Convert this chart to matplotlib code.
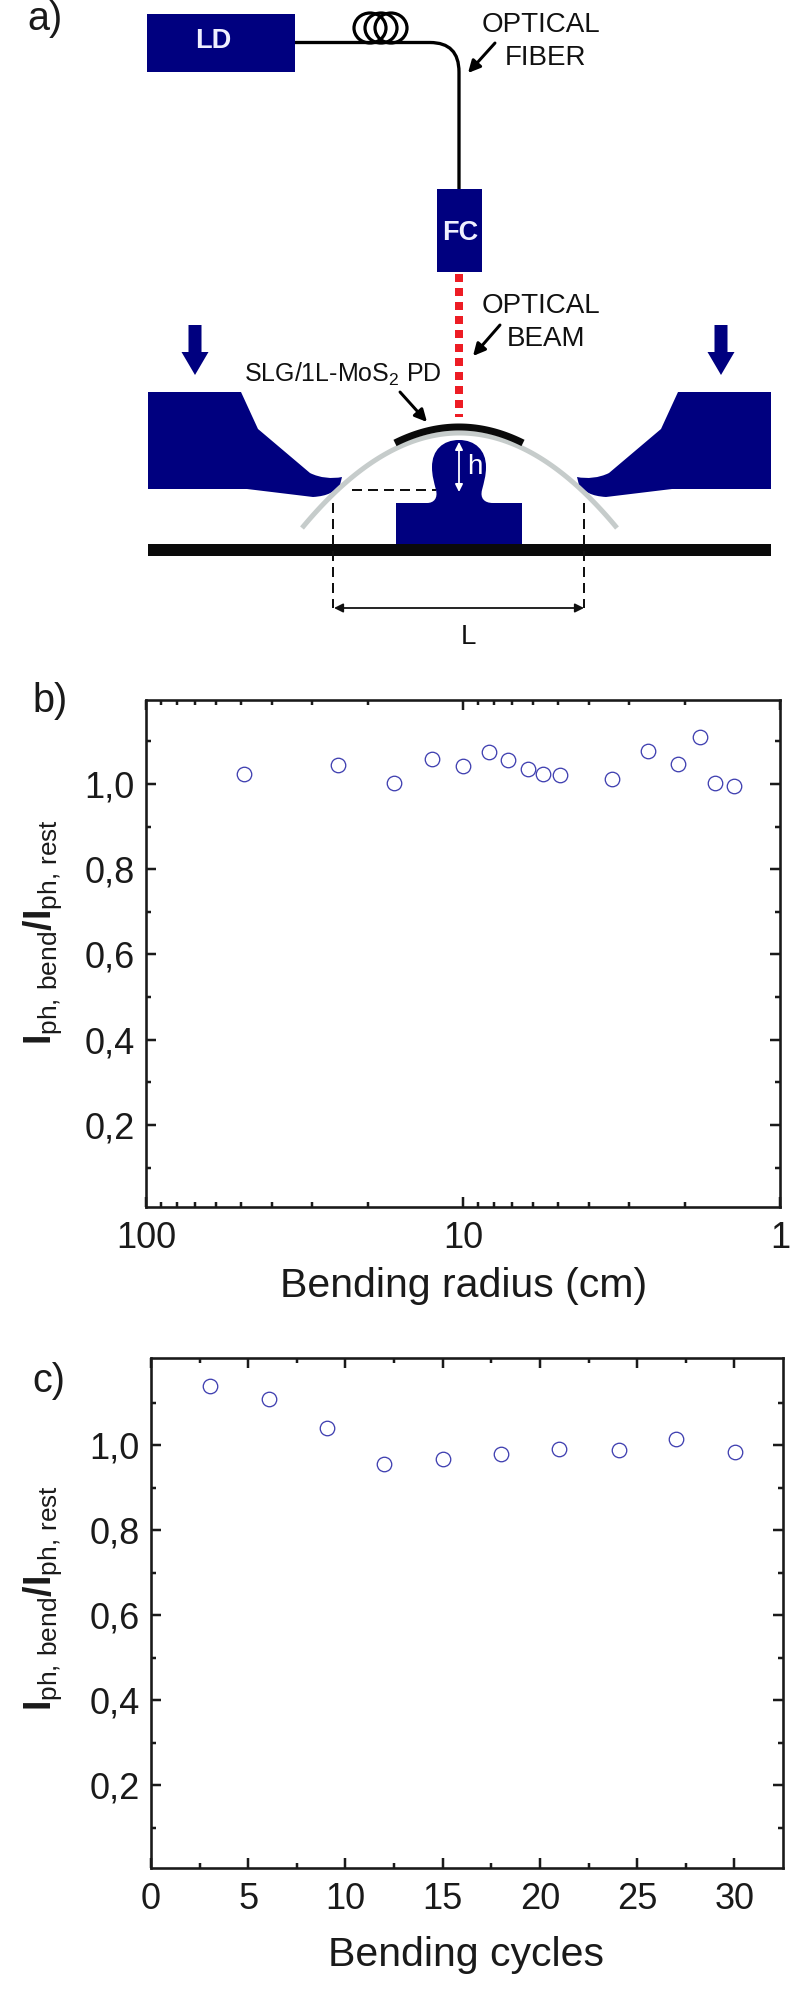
import numpy as np
import matplotlib
matplotlib.use('Agg')
import matplotlib.pyplot as plt
from matplotlib.patches import Rectangle, Ellipse, PathPatch, FancyArrowPatch, Polygon
from matplotlib.path import Path
from matplotlib.ticker import FixedLocator, LogLocator, NullFormatter, FuncFormatter

plt.rcParams['font.family'] = ['Liberation Sans', 'DejaVu Sans']
plt.rcParams['mathtext.fontset'] = 'custom'
plt.rcParams['mathtext.rm'] = 'Liberation Sans'
plt.rcParams['mathtext.it'] = 'Liberation Sans'
plt.rcParams['mathtext.bf'] = 'Liberation Sans:bold'
plt.rcParams['mathtext.default'] = 'regular'

# panel b
radius_cm = [49, 24.8, 16.5, 12.5, 10, 8.3, 7.2, 6.25, 5.6, 4.94, 3.4, 2.6, 2.1, 1.79, 1.6, 1.4]
ratio_radius = [1.024, 1.045, 1.003, 1.059, 1.042, 1.075, 1.056, 1.035, 1.023, 1.02,
                1.012, 1.078, 1.048, 1.11, 1.003, 0.996]

# panel c
cycles = [3.05, 6.05, 9.05, 12, 15, 18, 21, 24.05, 27, 30.05]
ratio_cycles = [1.138, 1.108, 1.039, 0.955, 0.967, 0.98, 0.991, 0.988, 1.015, 0.984]

y_major = [0.2, 0.4, 0.6, 0.8, 1.0]
y_minor = [0.1, 0.3, 0.5, 0.7, 0.9, 1.1]
ylabel = r'$\mathbf{I}_{ph,\,bend}\mathbf{/I}_{ph,\,rest}$'

W, H = 803, 1989
NAVY = '#00007f'
GREY = '#c6cccb'
RED = '#ed1c24'
BLUE = '#3f3fb0'
INK = '#1a1a1a'
PX = 72 / 100  # one pixel in points

fig = plt.figure(figsize=(W / 100, H / 100), dpi=100, facecolor='white')


def rect_px(l, t, r, b):
    return [l / W, 1 - b / H, (r - l) / W, (b - t) / H]


# ---- a) schematic, drawn in image pixels
dg = fig.add_axes(rect_px(0, 0, W, 680))
dg.set_xlim(0, W)
dg.set_ylim(680, 0)
dg.axis('off')

dg.add_patch(Rectangle((147.5, 14), 147.5, 58, fc=NAVY, ec='none'))
dg.add_patch(Rectangle((437, 189), 45, 83, fc=NAVY, ec='none'))
dg.text(213, 41.5, 'LD', color='#f0f0ff', fontsize=19.5, fontweight='bold', ha='center', va='center')
dg.text(460, 233, 'FC', color='#f0f0ff', fontsize=19.5, fontweight='bold', ha='center', va='center')

# fiber and coils
fiber = Path([(295, 42.5), (430, 42.5), (459, 42.5), (459, 72), (459, 189)],
             [Path.MOVETO, Path.LINETO, Path.CURVE3, Path.CURVE3, Path.LINETO])
dg.add_patch(PathPatch(fiber, fc='none', ec='black', lw=3.3 * PX))
for cx in [370, 381, 391]:
    dg.add_patch(Ellipse((cx, 28), 32, 30, fc='none', ec='black', lw=3.2 * PX))

# beam
dg.plot([459, 459], [274, 417], color=RED, lw=8 * PX, dashes=(1, 0.75), dash_capstyle='butt')

for x, y, s in [(541, 25, 'OPTICAL'), (546, 58, 'FIBER'), (541, 306, 'OPTICAL'), (546, 339, 'BEAM')]:
    dg.text(x, y, s, fontsize=20, ha='center', va='center', color='#111111')
dg.text(343, 374, 'SLG/1L-MoS$_2$ PD', fontsize=18, ha='center', va='center', color='#111111')
dg.text(468, 637, 'L', fontsize=20, ha='center', va='center', color='#111111')


def arrow(p0, p1, color='black', lw=3, style='-|>', scale=18):
    dg.add_patch(FancyArrowPatch(p0, p1, arrowstyle=style, mutation_scale=scale, color=color,
                                 lw=lw * PX, shrinkA=0, shrinkB=0, zorder=6))


arrow((495, 43), (468, 73))
arrow((500, 325), (473, 356))
arrow((400, 392), (427, 422))

# press arrows
for cx in [195, 721]:
    dg.add_patch(Polygon([(cx - 6.5, 325), (cx + 6.5, 325), (cx + 6.5, 352), (cx + 13.5, 352),
                          (cx, 375), (cx - 13.5, 352), (cx - 6.5, 352)], fc=NAVY, ec='none'))

# clamps, right one mirrored about the centre line
clamp_v = [(148, 392), (241, 392), (258, 429), (310, 473), (320, 478), (332, 479), (342, 477),
           (340, 485), (334, 492), (328, 496), (313, 497), (247, 489), (148, 489), (148, 392)]
clamp_c = [Path.MOVETO, Path.LINETO, Path.LINETO, Path.LINETO, Path.CURVE4, Path.CURVE4, Path.CURVE4,
           Path.LINETO, Path.CURVE4, Path.CURVE4, Path.CURVE4, Path.LINETO, Path.LINETO, Path.CLOSEPOLY]
dg.add_patch(PathPatch(Path(clamp_v, clamp_c), fc=NAVY, ec='none'))
dg.add_patch(PathPatch(Path([(919 - x, y) for x, y in clamp_v], clamp_c), fc=NAVY, ec='none'))

# post
post_v = [(396, 503), (427, 503),
          (434, 503), (438, 498), (436, 490),
          (434, 482), (432, 476), (432, 467),
          (432, 450), (443, 440), (459, 440),
          (475, 440), (486, 450), (486, 467),
          (486, 476), (484, 482), (482, 490),
          (480, 498), (484, 503), (493, 503),
          (522, 503), (522, 545), (396, 545), (396, 503)]
post_c = [Path.MOVETO, Path.LINETO] + [Path.CURVE4] * 18 + [Path.LINETO] * 3 + [Path.CLOSEPOLY]
dg.add_patch(PathPatch(Path(post_v, post_c), fc=NAVY, ec='none'))

# base bar
dg.add_patch(Rectangle((148, 544), 623, 12, fc='#0a0a0a', ec='none'))

# bent substrate and device
xs = np.linspace(302, 617, 120)
dg.plot(xs, 433 + 0.00383 * (xs - 459.5) ** 2, color=GREY, lw=5 * PX, solid_capstyle='butt')
xs = np.linspace(395, 523, 60)
dg.plot(xs, 427 + 0.0039 * (xs - 459) ** 2, color='#0a0a0a', lw=7 * PX, solid_capstyle='butt')

# h marker
arrow((459, 442), (459, 492), color='white', lw=1.8, style='<|-|>', scale=11)
dg.text(475, 467, 'h', color='white', fontsize=20, ha='center', va='center')

# dashed guides and L arrow
dash = dict(color='#111111', lw=2 * PX, dashes=(5, 3), dash_capstyle='butt')
dg.plot([352, 436], [490, 490], **dash)
dg.plot([333, 333], [503, 608], **dash)
dg.plot([584, 584], [503, 608], **dash)
arrow((334, 608), (584, 608), color='#111111', lw=1.8, style='<|-|>', scale=13)


# ---- b) and c)
def setup_panel(ax, ylim):
    for s in ax.spines.values():
        s.set_linewidth(2.6 * PX)
        s.set_color(INK)
    ax.set_ylim(*ylim)
    ax.yaxis.set_major_locator(FixedLocator(y_major))
    ax.yaxis.set_minor_locator(FixedLocator(y_minor))
    ax.yaxis.set_major_formatter(FuncFormatter(lambda v, p: f'{v:.1f}'.replace('.', ',')))
    ax.tick_params(which='both', direction='in', top=True, right=True, width=2.5 * PX, color=INK)
    ax.tick_params(which='major', length=10 * PX, labelsize=26, labelcolor=INK)
    ax.tick_params(which='minor', length=5 * PX)
    ax.tick_params(axis='y', which='major', pad=11 * PX)


def place_labels(ax, box, x_c, y_x, y_y):
    l, t, r, b = box
    ax.xaxis.set_label_coords((x_c[0] - l) / (r - l), (b - x_c[1]) / (b - t), ax.transAxes)
    ax.yaxis.set_label_coords((y_x - l) / (r - l), (b - y_y) / (b - t), ax.transAxes)
    ax.xaxis.label.set_va('center')
    ax.yaxis.label.set_va('center')


pt_style = dict(linestyle='none', marker='o', ms=14.5 * PX, mfc='none', mec=BLUE, mew=1.3 * PX)

box_b = (146, 700, 780, 1207)
ax_b = fig.add_axes(rect_px(*box_b))
ax_b.set_xscale('log')
ax_b.set_xlim(100, 1)
ax_b.plot(radius_cm, ratio_radius, **pt_style)
setup_panel(ax_b, (0.0076, 1.197))
ax_b.xaxis.set_major_locator(FixedLocator([100, 10, 1]))
ax_b.xaxis.set_major_formatter(FuncFormatter(lambda v, p: f'{v:.0f}'))
ax_b.xaxis.set_minor_locator(LogLocator(base=10, subs=np.arange(2, 10), numticks=10))
ax_b.xaxis.set_minor_formatter(NullFormatter())
ax_b.tick_params(axis='x', which='major', pad=14 * PX)
ax_b.set_xlabel('Bending radius (cm)', fontsize=29.5, color=INK)
ax_b.set_ylabel(ylabel, fontsize=27, color=INK)
place_labels(ax_b, box_b, (463.5, 1286), 43, 932)

box_c = (151, 1357.5, 783, 1868)
ax_c = fig.add_axes(rect_px(*box_c))
ax_c.set_xlim(0, 32.5)
ax_c.plot(cycles, ratio_cycles, **pt_style)
setup_panel(ax_c, (0.0047, 1.206))
ax_c.set_xticks([0, 5, 10, 15, 20, 25, 30])
ax_c.set_xticks([2.5, 7.5, 12.5, 17.5, 22.5, 27.5], minor=True)
ax_c.tick_params(axis='x', which='major', pad=14 * PX)
ax_c.set_xlabel('Bending cycles', fontsize=29.5, color=INK)
ax_c.set_ylabel(ylabel, fontsize=27, color=INK)
place_labels(ax_c, box_c, (466.5, 1955), 43, 1598)

# panel letters
for x, y, s in [(27, 19, 'a)'), (32, 701, 'b)'), (32, 1381, 'c)')]:
    fig.text(x / W, 1 - y / H, s, fontsize=28.5, ha='left', va='center', color=INK)

fig.savefig('out.png', dpi=100)
